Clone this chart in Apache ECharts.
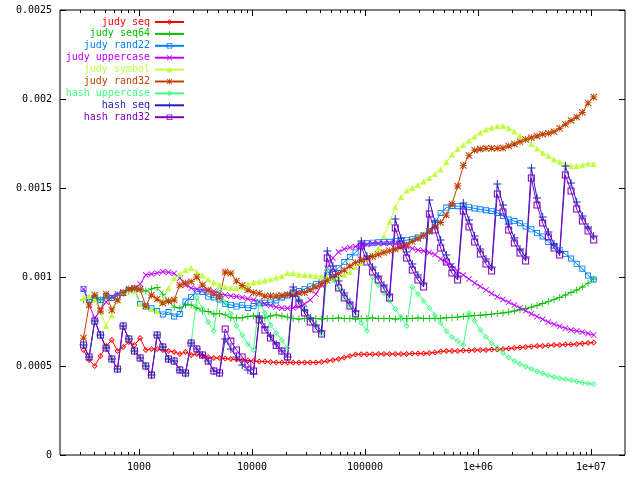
<!DOCTYPE html>
<html>
<head>
<meta charset="utf-8">
<title>judy / hash timings</title>
<script src="https://cdn.jsdelivr.net/npm/echarts@6.0.0/dist/echarts.min.js"></script>
<style>
html, body { margin: 0; padding: 0; background: #fff; }
#main { width: 640px; height: 480px; }
</style>
</head>
<body>
<div id="main"></div>
<script>
// number of keys
var sizes = [
	323, 362, 406, 456, 512, 575, 645, 724, 813, 912,
	1024, 1149, 1290, 1448, 1625, 1825, 2048, 2299, 2580, 2896,
	3251, 3649, 4096, 4598, 5161, 5793, 6502, 7298, 8192, 9195,
	10321, 11585, 13004, 14596, 16384, 18390, 20643, 23170, 26008, 29193,
	32768, 36781, 41285, 46341, 52016, 58386, 65536, 73562, 82570, 92682,
	104032, 116772, 131072, 147123, 165140, 185364, 208064, 233544, 262144, 294247,
	330281, 370728, 416128, 467088, 524288, 588493, 660561, 741455, 832255, 934176,
	1048576, 1176986, 1321123, 1482910, 1664510, 1868351, 2097152, 2353973, 2642246, 2965821,
	3329021, 3736704, 4194304, 4707947, 5284492, 5931642, 6658042, 7473408, 8388608, 9415682,
	10568983
];

// time per key, in microseconds (divided by 1e6 when plotted)
var judySeq = [
	590, 534, 500, 556, 612, 646, 584, 607, 635, 618,
	657, 590, 596, 596, 590, 584, 579, 567, 579, 562,
	567, 556, 551, 545, 545, 542, 539, 537, 534, 531,
	528, 525, 525, 522, 520, 520, 520, 520, 520, 520,
	520, 520, 522, 528, 534, 539, 548, 556, 565, 566,
	566, 566, 567, 567, 567, 567, 567, 567, 570, 570,
	570, 573, 576, 581, 584, 584, 584, 587, 587, 590,
	590, 590, 593, 593, 596, 598, 601, 604, 607, 610,
	612, 612, 615, 618, 618, 621, 621, 624, 626, 629,
	632
];
var judySeq64 = [
	871, 882, 893, 871, 888, 882, 899, 910, 921, 927,
	933, 921, 933, 941, 904, 865, 831, 826, 843, 843,
	826, 809, 806, 792, 795, 787, 770, 770, 770, 778,
	781, 770, 770, 781, 787, 781, 775, 767, 764, 767,
	770, 767, 764, 767, 767, 770, 767, 767, 764, 767,
	767, 770, 767, 767, 767, 764, 767, 767, 767, 770,
	767, 768, 768, 768, 771, 773, 775, 778, 781, 783,
	785, 788, 791, 795, 798, 803, 809, 816, 823, 831,
	840, 851, 862, 874, 885, 899, 913, 927, 944, 966,
	989
];
var judyRand22 = [
	933, 871, 882, 871, 893, 882, 893, 910, 927, 935,
	848, 834, 824, 809, 790, 803, 778, 792, 862, 888,
	919, 916, 890, 885, 874, 848, 843, 834, 843, 826,
	837, 852, 856, 857, 868, 885, 896, 905, 921, 933,
	947, 961, 978, 1011, 1028, 1051, 1084, 1112, 1138, 1177,
	1189, 1193, 1195, 1197, 1198, 1201, 1203, 1207, 1212, 1222,
	1233, 1258, 1303, 1360, 1390, 1399, 1398, 1395, 1392, 1385,
	1380, 1375, 1371, 1360, 1343, 1323, 1314, 1302, 1284, 1268,
	1247, 1228, 1197, 1176, 1152, 1129, 1104, 1074, 1047, 1008,
	986
];
var judyUppercase = [
	933, 843, 770, 815, 860, 888, 904, 916, 927, 933,
	961, 1011, 1017, 1021, 1030, 1026, 1020, 994, 955, 938,
	931, 927, 924, 920, 909, 899, 893, 891, 885, 878,
	871, 861, 848, 840, 831, 826, 824, 827, 833, 848,
	871, 904, 955, 1051, 1107, 1140, 1157, 1166, 1171, 1177,
	1183, 1188, 1188, 1188, 1188, 1188, 1183, 1171, 1160, 1152,
	1146, 1138, 1126, 1101, 1084, 1065, 1034, 1011, 989, 966,
	947, 927, 907, 889, 874, 858, 842, 826, 810, 794,
	778, 763, 747, 734, 723, 712, 702, 697, 691, 683,
	674
];
var judySymbol = [
	882, 893, 871, 803, 725, 787, 871, 916, 927, 921,
	848, 837, 820, 809, 871, 938, 994, 1017, 1039, 1051,
	1028, 1008, 986, 969, 958, 944, 938, 938, 944, 961,
	969, 975, 980, 987, 996, 1006, 1022, 1022, 1014, 1011,
	1008, 1006, 1003, 1000, 997, 994, 1011, 1028, 1056, 1079,
	1101, 1129, 1163, 1230, 1309, 1393, 1449, 1486, 1500, 1517,
	1537, 1556, 1579, 1604, 1646, 1688, 1719, 1742, 1767, 1789,
	1812, 1829, 1839, 1847, 1848, 1837, 1817, 1795, 1775, 1747,
	1722, 1698, 1681, 1660, 1648, 1635, 1624, 1624, 1629, 1637,
	1635
];
var judyRand32 = [
	657, 843, 899, 809, 904, 815, 871, 912, 933, 937,
	931, 837, 899, 876, 854, 865, 871, 955, 966, 974,
	1000, 955, 927, 904, 888, 1028, 1021, 978, 952, 927,
	912, 908, 893, 893, 893, 896, 900, 906, 910, 913,
	927, 944, 961, 980, 1000, 1020, 1039, 1062, 1081, 1096,
	1105, 1115, 1126, 1137, 1147, 1157, 1169, 1180, 1199, 1216,
	1233, 1256, 1281, 1306, 1348, 1410, 1511, 1626, 1683, 1712,
	1719, 1723, 1723, 1723, 1725, 1736, 1747, 1760, 1772, 1782,
	1792, 1802, 1807, 1816, 1835, 1858, 1879, 1899, 1924, 1978,
	2011
];
var hashUppercase = [
	618, 551, 753, 674, 601, 539, 483, 725, 652, 584,
	545, 500, 449, 674, 607, 539, 528, 478, 461, 629,
	882, 820, 747, 697, 927, 854, 792, 725, 674, 624,
	590, 860, 798, 730, 685, 646, 601, 921, 876, 826,
	770, 725, 680, 1039, 983, 933, 882, 837, 787, 742,
	697, 1000, 955, 910, 865, 820, 775, 725, 944, 904,
	865, 826, 787, 742, 697, 663, 640, 618, 798, 753,
	702, 663, 629, 601, 573, 548, 528, 511, 497, 483,
	469, 459, 447, 438, 431, 426, 420, 413, 407, 402,
	397
];
var hashSeq = [
	618, 551, 753, 674, 601, 539, 483, 725, 652, 584,
	545, 500, 449, 674, 607, 539, 528, 478, 461, 629,
	596, 562, 528, 472, 461, 652, 596, 551, 506, 478,
	455, 781, 719, 669, 624, 584, 551, 944, 871, 815,
	770, 730, 697, 1146, 1062, 978, 910, 860, 809, 1202,
	1118, 1056, 1006, 955, 904, 1326, 1219, 1140, 1073, 1011,
	966, 1433, 1309, 1208, 1124, 1056, 1006, 1416, 1320, 1230,
	1157, 1101, 1056, 1522, 1404, 1298, 1219, 1157, 1112, 1612,
	1444, 1337, 1253, 1185, 1140, 1624, 1528, 1421, 1343, 1281,
	1230
];
var hashRand32 = [
	618, 551, 753, 674, 601, 539, 483, 725, 652, 584,
	545, 500, 449, 674, 607, 539, 528, 478, 461, 629,
	596, 562, 528, 472, 461, 708, 640, 590, 551, 511,
	472, 758, 702, 657, 615, 584, 551, 910, 848, 798,
	747, 708, 680, 1107, 1017, 938, 882, 837, 792, 1174,
	1084, 1028, 983, 933, 882, 1275, 1180, 1107, 1039, 983,
	944, 1354, 1264, 1163, 1084, 1022, 983, 1371, 1281, 1197,
	1129, 1073, 1034, 1466, 1365, 1264, 1191, 1135, 1090, 1556,
	1404, 1303, 1225, 1163, 1124, 1573, 1483, 1382, 1315, 1258,
	1208
];

var xMajor = [1000, 10000, 100000, 1000000, 10000000];
var xMinor = [
	300, 400, 500, 600, 700, 800, 900,
	2000, 3000, 4000, 5000, 6000, 7000, 8000, 9000,
	20000, 30000, 40000, 50000, 60000, 70000, 80000, 90000,
	200000, 300000, 400000, 500000, 600000, 700000, 800000, 900000,
	2000000, 3000000, 4000000, 5000000, 6000000, 7000000, 8000000, 9000000
];

var FONT = 'DejaVu Sans Mono';

// gnuplot style point types
var pt = {
	plus: 'path://M4.4,0H5.6V4.4H10V5.6H5.6V10H4.4V5.6H0V4.4H4.4Z',
	cross: 'path://M0,1L1,0L10,9L9,10ZM9,0L10,1L1,10L0,9Z',
	star: 'path://M4.4,0H5.6V4.4H10V5.6H5.6V10H4.4V5.6H0V4.4H4.4ZM0,1L1,0L10,9L9,10ZM9,0L10,1L1,10L0,9Z',
	box: 'path://M0,0H10V10H0ZM1.5,1.5V8.5H8.5V1.5Z',
	diamond: 'path://M5,0L10,5L5,10L0,5ZM5,2L2,5L5,8L8,5Z',
	triangle: 'path://M5,0L10,9H0Z'
};

var lines = [
	{ name: 'judy seq', values: judySeq, color: '#ff0000', symbol: pt.diamond, size: 6 },
	{ name: 'judy seq64', values: judySeq64, color: '#00c000', symbol: pt.plus, size: 7 },
	{ name: 'judy rand22', values: judyRand22, color: '#0080ff', symbol: pt.box, size: 6 },
	{ name: 'judy uppercase', values: judyUppercase, color: '#c000ff', symbol: pt.cross, size: 6 },
	{ name: 'judy symbol', values: judySymbol, color: '#c0ff40', symbol: pt.triangle, size: 6 },
	{ name: 'judy rand32', values: judyRand32, color: '#c04000', symbol: pt.star, size: 7 },
	{ name: 'hash uppercase', values: hashUppercase, color: '#40ff80', symbol: pt.diamond, size: 6 },
	{ name: 'hash seq', values: hashSeq, color: '#2020c0', symbol: pt.plus, size: 8 },
	{ name: 'hash rand32', values: hashRand32, color: '#8000c0', symbol: pt.box, size: 7 }
];

function pairs(values) {
	return sizes.map(function (n, i) { return [n, values[i] / 1e6]; });
}

function fmtX(v) {
	if (v >= 1000000) return '1e+0' + Math.round(Math.log(v) / Math.LN10);
	return String(v);
}

function fmtY(v) {
	return v === 0 ? '0' : String(+v.toFixed(4));
}

var myChart = echarts.init(document.getElementById('main'));

var xBase = {
	type: 'log',
	logBase: 10,
	min: 200,
	max: 20000000,
	axisLine: { show: false },
	splitLine: { show: false }
};

function xAxisOf(position, ticks, len, labels) {
	return Object.assign({}, xBase, {
		position: position,
		axisTick: { inside: true, length: len, customValues: ticks, lineStyle: { color: '#000', width: 1 } },
		axisLabel: labels ? {
			customValues: xMajor,
			formatter: fmtX,
			color: '#000',
			fontFamily: FONT,
			fontSize: 10,
			margin: 7
		} : { show: false }
	});
}

function yAxisOf(position, labels) {
	return {
		type: 'value',
		position: position,
		min: 0,
		max: 0.0025,
		interval: 0.0005,
		axisLine: { show: false },
		splitLine: { show: false },
		axisTick: { inside: true, length: 6, lineStyle: { color: '#000', width: 1 } },
		axisLabel: labels ? {
			formatter: fmtY,
			color: '#000',
			fontFamily: FONT,
			fontSize: 10,
			margin: 8
		} : { show: false }
	};
}

var option = {
	animation: false,
	backgroundColor: '#fff',
	grid: {
		left: 60,
		right: 15,
		top: 10,
		bottom: 25,
		show: true,
		borderColor: '#000',
		borderWidth: 1
	},
	xAxis: [
		xAxisOf('bottom', xMajor, 6, true),
		xAxisOf('bottom', xMinor, 3, false),
		xAxisOf('top', xMajor, 6, false),
		xAxisOf('top', xMinor, 3, false)
	],
	yAxis: [
		yAxisOf('left', true),
		yAxisOf('right', false)
	],
	legend: lines.map(function (l, i) {
		return {
			data: [l.name],
			orient: 'vertical',
			align: 'right',
			right: 455,
			top: 17 + i * 11.9,
			padding: 0,
			itemWidth: 29,
			itemHeight: 7,
			selectedMode: false,
			textStyle: { color: l.color, fontFamily: FONT, fontSize: 10 }
		};
	}),
	series: lines.map(function (l) {
		return {
			name: l.name,
			type: 'line',
			data: pairs(l.values),
			symbol: l.symbol,
			symbolSize: l.size,
			showAllSymbol: true,
			color: l.color,
			lineStyle: { color: l.color, width: 1 },
			itemStyle: { color: l.color, borderWidth: 0 },
			emphasis: { disabled: true }
		};
	})
};
myChart.setOption(option);
</script>
</body>
</html>
